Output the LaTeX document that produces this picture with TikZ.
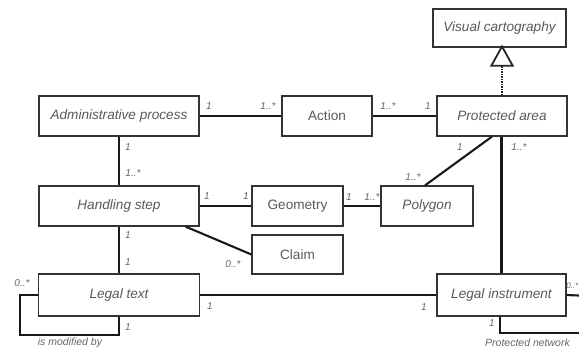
\documentclass[tikz,border=0pt]{standalone}
\usepackage{fontspec}
\setmainfont{Liberation Sans}
\usetikzlibrary{arrows.meta,calc}
\begin{document}
\begin{tikzpicture}[x=1pt,y=-1pt,
  cls/.style={draw=black!80,line width=1.2pt,fill=white,rectangle,minimum height=40pt,inner sep=0pt,text=black!65,font=\fontsize{13.6}{15}\selectfont\itshape},
  clsu/.style={cls,font=\fontsize{13.6}{15}\selectfont},
  conn/.style={draw=black!90,line width=2.1pt},
  mult/.style={text=black!60,font=\fontsize{10}{11}\selectfont\itshape,inner sep=0pt},
  role/.style={text=black!60,font=\fontsize{10.5}{12}\selectfont\itshape,inner sep=0pt}]
\useasboundingbox (0,0) rectangle (579,349);
% classes
\node[cls,minimum width=133pt,minimum height=38pt] (vc) at (499.5,28) {Visual cartography};
\node[cls,minimum width=160pt] (ap) at (119,116) {Administrative process};
\node[clsu,minimum width=90pt] (ac) at (327,116) {Action};
\node[cls,minimum width=130pt] (pa) at (502,116) {Protected area};
\node[cls,minimum width=160pt] (hs) at (119,206) {Handling step};
\node[clsu,minimum width=91pt] (ge) at (297.5,206) {Geometry};
\node[cls,minimum width=92pt] (po) at (427,206) {Polygon};
\node[clsu,minimum width=91pt,minimum height=39pt] (cl) at (297.5,254.5) {Claim};
\node[cls,minimum width=161pt,minimum height=42pt] (lt) at (119,295) {Legal text};
\node[cls,minimum width=129pt,minimum height=42pt] (li) at (501.5,295) {Legal instrument};
% helper coordinates
\coordinate (lp) at (20,335);
\coordinate (e1) at (590,296);
\coordinate (e2) at (590,333);
% connectors
\draw[conn] (ap.east) -- (ac.west);
\draw[conn] (ac.east) -- (pa.west);
\draw[conn] (ap.south) -- (hs.north);
\draw[conn] (hs.east) -- (ge.west);
\draw[conn] (ge.east) -- (po.west);
\draw[conn] ([xshift=-2pt]po.north) -- ([xshift=-10pt]pa.south);
\draw[conn] (li.north) -- (li.north |- pa.south);
\draw[conn] ([xshift=-14pt]hs.south east) -- (cl.west);
\draw[conn] (hs.south) -- (lt.north);
\draw[conn] (lt.east) -- (li.west);
\draw[conn] (lt.west) -| (lp) -| (lt.south);
\draw[conn] (li.east) -- (e1);
\draw[conn] ([xshift=-1.5pt]li.south) |- (e2);
% generalization
\draw[draw=black!85,line width=1.8pt,dash pattern=on 1.5pt off 1pt,
  -{Triangle[open,length=22pt,width=24pt,line width=1.8pt,fill=white]}]
  (pa.north) -- ([yshift=3pt]pa.north |- vc.south);
% multiplicities
\node[mult] (m1) at (209,106) {1};
\node[mult] (m2) at (268,106) {1..*};
\node[mult] (m3) at (388,106) {1..*};
\node[mult] (m4) at (428,106) {1};
\node[mult] (m5) at (128,147) {1};
\node[mult] (m6) at (133,173) {1..*};
\node[mult] (m7) at (207,196) {1};
\node[mult] (m8) at (246,196) {1};
\node[mult] (m9) at (349,197) {1};
\node[mult] (m10) at (372,197) {1..*};
\node[mult] (m11) at (460,147) {1};
\node[mult] (m12) at (413,177) {1..*};
\node[mult] (m13) at (519,147) {1..*};
\node[mult] (m14) at (233,264) {0..*};
\node[mult] (m15) at (128,235) {1};
\node[mult] (m16) at (128,262) {1};
\node[mult] (m17) at (210,306) {1};
\node[mult] (m18) at (424,307) {1};
\node[mult] (m19) at (22,283) {0..*};
\node[mult] (m20) at (128,327) {1};
\node[mult] (m21) at (492,323) {1};
\node[mult,anchor=east,font=\fontsize{8}{9}\selectfont\itshape] (m22) at (578.5,286) {0..*};
% roles
\node[role] (r1) at (70,343) {is modified by};
\node[role,anchor=west] (r2) at (485,343) {Protected network};
\end{tikzpicture}
\end{document}
